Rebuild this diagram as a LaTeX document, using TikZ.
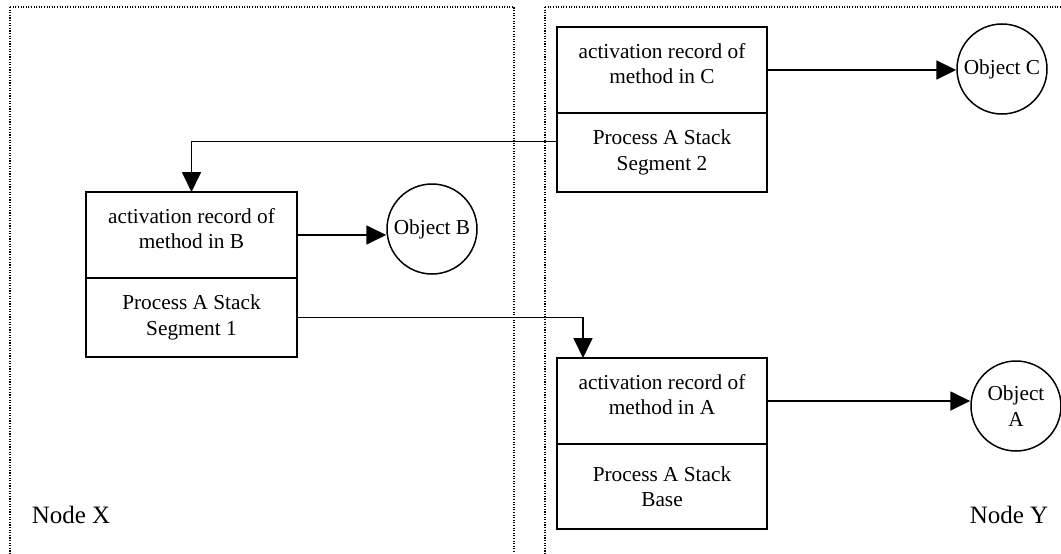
\documentclass[tikz,border=0pt]{standalone}
\usepackage{fontspec}
\setmainfont{Liberation Serif}
\usetikzlibrary{arrows.meta, positioning}

\begin{document}
\begin{tikzpicture}[x=1pt, y=-1pt,
    font=\fontsize{21.3}{25.5}\selectfont,
    record/.style={draw, line width=1.8pt, outer sep=0pt, inner sep=0pt,
        minimum width=210pt, minimum height=86pt, align=center, text depth=13pt},
    segment/.style={draw, line width=1.8pt, outer sep=0pt, inner sep=0pt,
        minimum width=210pt, minimum height=79pt, align=center},
    object/.style={draw, circle, line width=1.5pt, inner sep=0pt,
        minimum size=90pt, align=center},
    link/.style={line width=1.8pt, -{Triangle[length=20pt, width=19pt]}},
    host/.style={line width=1.1pt, dash pattern=on 1.1pt off 1.5pt}]
            \useasboundingbox (0,0) rectangle (1061,554);

            % Hosts
            \draw[host] (10,7) rectangle (514,580);
            \draw[host] (545,7) rectangle (1075,580);
            \node[font=\fontsize{25}{30}\selectfont] (nodeX) at (71,515) {Node X};
            \node[font=\fontsize{25}{30}\selectfont] (nodeY) at (1009,515) {Node Y};

            % Stack segments
            \node[record] (recC) at (662,70) {activation record of\\method in C};
            \node[segment, below=0pt of recC] (segC) {Process A Stack\\Segment 2};

            \node[record, minimum width=211pt] (recB) at (191.5,235) {activation record of\\method in B};
            \node[segment, minimum width=211pt, below=0pt of recB] (segB) {Process A Stack\\Segment 1};

            \node[record] (recA) at (662,401) {activation record of\\method in A};
            \node[segment, minimum height=85pt, below=0pt of recA] (segA) {Process A Stack\\Base};

            % Objects
            \node[object] (objC) at (1002,69) {Object C};
            \node[object] (objB) at (432,229) {Object B};
            \node[object] (objA) at (1016,406) {Object\\A};

            % References
            \draw[link] (recC.east) -- (recC.east -| objC.west);
            \draw[link] (recB.east) -- (recB.east -| objB.west);
            \draw[link] (recA.east) -- (recA.east -| objA.west);
            \draw[link] ([yshift=11pt]segC.west) -| (recB.north);
            \draw[link] (segB.east) -| ([xshift=26pt]recA.north west);
        \end{tikzpicture}
\end{document}
